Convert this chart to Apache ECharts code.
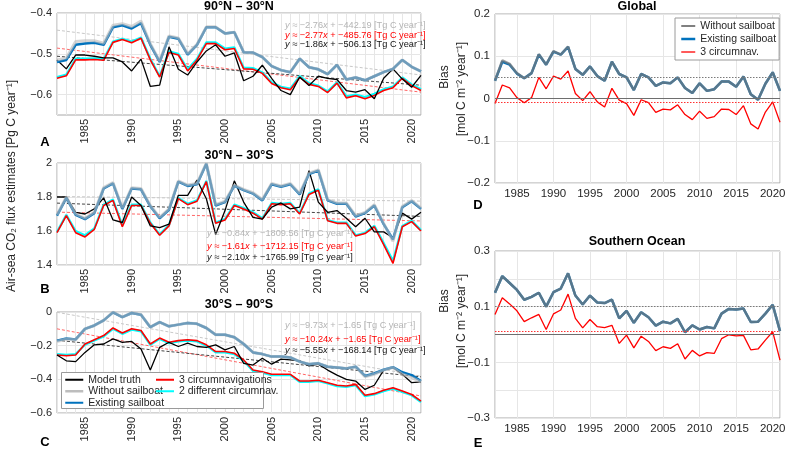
<!DOCTYPE html>
<html><head><meta charset="utf-8">
<script src="https://cdn.jsdelivr.net/npm/echarts@6/dist/echarts.min.js"></script>
<style>html,body{margin:0;padding:0;background:#fff}#c{width:787px;height:451px}</style>
</head><body><div id="c"></div>
<script>
const FONT = '"Liberation Sans", Arial, Helvetica, sans-serif';
const years = [1982,1983,1984,1985,1986,1987,1988,1989,1990,1991,1992,1993,1994,1995,1996,1997,1998,1999,2000,2001,2002,2003,2004,2005,2006,2007,2008,2009,2010,2011,2012,2013,2014,2015,2016,2017,2018,2019,2020,2021];

// Panel A: 90N-30N (Pg C / yr)
const aTruth    = [-0.515,-0.537,-0.503,-0.503,-0.506,-0.510,-0.510,-0.520,-0.542,-0.513,-0.580,-0.577,-0.483,-0.538,-0.552,-0.520,-0.493,-0.478,-0.506,-0.498,-0.566,-0.555,-0.528,-0.560,-0.590,-0.600,-0.557,-0.578,-0.555,-0.560,-0.563,-0.590,-0.594,-0.588,-0.610,-0.560,-0.537,-0.562,-0.582,-0.553];
const aExisting = [-0.520,-0.515,-0.478,-0.475,-0.473,-0.478,-0.435,-0.430,-0.438,-0.425,-0.478,-0.520,-0.458,-0.463,-0.502,-0.478,-0.435,-0.435,-0.450,-0.447,-0.496,-0.497,-0.508,-0.530,-0.540,-0.545,-0.512,-0.533,-0.538,-0.550,-0.527,-0.563,-0.558,-0.565,-0.555,-0.545,-0.537,-0.515,-0.532,-0.543];
const aWithout  = [-0.515,-0.510,-0.470,-0.468,-0.468,-0.474,-0.430,-0.426,-0.433,-0.420,-0.475,-0.518,-0.456,-0.461,-0.500,-0.477,-0.434,-0.434,-0.450,-0.447,-0.496,-0.497,-0.508,-0.530,-0.540,-0.545,-0.512,-0.533,-0.538,-0.550,-0.527,-0.563,-0.558,-0.565,-0.555,-0.545,-0.537,-0.515,-0.532,-0.543];
const a3circ    = [-0.560,-0.554,-0.515,-0.515,-0.514,-0.516,-0.472,-0.465,-0.473,-0.462,-0.515,-0.557,-0.497,-0.503,-0.542,-0.515,-0.475,-0.475,-0.490,-0.487,-0.537,-0.538,-0.548,-0.573,-0.583,-0.588,-0.558,-0.575,-0.580,-0.595,-0.572,-0.608,-0.603,-0.610,-0.602,-0.590,-0.583,-0.560,-0.578,-0.590];
const a2diff    = [-0.557,-0.551,-0.512,-0.512,-0.511,-0.513,-0.470,-0.463,-0.470,-0.460,-0.512,-0.555,-0.494,-0.500,-0.538,-0.512,-0.472,-0.472,-0.487,-0.484,-0.534,-0.535,-0.546,-0.570,-0.581,-0.585,-0.555,-0.572,-0.578,-0.592,-0.570,-0.604,-0.600,-0.606,-0.598,-0.587,-0.580,-0.558,-0.575,-0.587];
const aTrendStart = [-0.442, -0.486, -0.506];   // without sailboat, 3 circumnav., model truth
const aTrendEnd   = [-0.552, -0.594, -0.577];
const aYTicks = [-0.6, -0.5, -0.4];

// Panel B: 30N-30S
const bTruth    = [1.800,1.800,1.710,1.700,1.730,1.795,1.665,1.650,1.800,1.750,1.630,1.620,1.640,1.810,1.810,1.900,1.790,1.580,1.720,1.895,1.770,1.680,1.670,1.740,1.765,1.730,1.740,1.955,1.770,1.710,1.720,1.675,1.625,1.675,1.595,1.595,1.560,1.705,1.670,1.710];
const bExisting = [1.690,1.795,1.695,1.670,1.705,1.850,1.880,1.730,1.850,1.845,1.745,1.675,1.725,1.890,1.865,1.875,1.995,1.750,1.770,1.865,1.840,1.820,1.780,1.875,1.860,1.875,1.815,1.935,1.955,1.780,1.760,1.760,1.685,1.705,1.750,1.640,1.550,1.740,1.775,1.730];
const bWithout  = [1.695,1.800,1.700,1.675,1.710,1.855,1.885,1.735,1.855,1.850,1.750,1.680,1.730,1.895,1.870,1.880,2.000,1.755,1.775,1.870,1.845,1.825,1.785,1.880,1.865,1.880,1.820,1.940,1.960,1.785,1.765,1.765,1.690,1.710,1.755,1.645,1.540,1.745,1.780,1.735];
const b3circ    = [1.590,1.690,1.590,1.565,1.610,1.750,1.780,1.625,1.750,1.750,1.645,1.575,1.630,1.790,1.755,1.775,1.890,1.645,1.665,1.750,1.730,1.705,1.670,1.760,1.755,1.760,1.700,1.815,1.840,1.660,1.645,1.645,1.570,1.585,1.625,1.520,1.410,1.625,1.655,1.600];
const b2diff    = [1.595,1.695,1.600,1.575,1.615,1.755,1.785,1.635,1.755,1.755,1.650,1.580,1.635,1.795,1.760,1.780,1.895,1.650,1.670,1.755,1.735,1.710,1.675,1.765,1.760,1.765,1.705,1.820,1.845,1.665,1.650,1.650,1.575,1.590,1.630,1.530,1.425,1.630,1.660,1.605];
const bTrendStart = [1.803, 1.711, 1.764];
const bTrendEnd   = [1.776, 1.659, 1.686];

// Panel C: 30S-90S
const cTruth    = [-0.255,-0.290,-0.295,-0.240,-0.195,-0.190,-0.160,-0.180,-0.175,-0.220,-0.345,-0.210,-0.180,-0.205,-0.185,-0.205,-0.210,-0.195,-0.225,-0.205,-0.305,-0.315,-0.275,-0.310,-0.280,-0.285,-0.290,-0.320,-0.310,-0.345,-0.375,-0.400,-0.410,-0.460,-0.435,-0.345,-0.330,-0.370,-0.420,-0.415];
const cExisting = [-0.170,-0.158,-0.163,-0.100,-0.080,-0.050,-0.002,-0.030,-0.006,-0.016,-0.090,-0.060,-0.085,-0.075,-0.065,-0.070,-0.095,-0.135,-0.135,-0.150,-0.190,-0.240,-0.250,-0.265,-0.265,-0.270,-0.295,-0.310,-0.305,-0.325,-0.330,-0.335,-0.325,-0.380,-0.365,-0.343,-0.328,-0.358,-0.375,-0.410];
const cWithout  = [-0.175,-0.160,-0.165,-0.100,-0.080,-0.050,0.000,-0.030,-0.005,-0.015,-0.090,-0.060,-0.085,-0.075,-0.065,-0.070,-0.095,-0.135,-0.135,-0.150,-0.190,-0.240,-0.250,-0.265,-0.265,-0.270,-0.295,-0.310,-0.305,-0.325,-0.330,-0.335,-0.325,-0.385,-0.370,-0.345,-0.330,-0.370,-0.390,-0.415];
const c3circ    = [-0.255,-0.260,-0.255,-0.190,-0.165,-0.140,-0.095,-0.125,-0.100,-0.110,-0.190,-0.155,-0.180,-0.170,-0.165,-0.170,-0.195,-0.235,-0.235,-0.245,-0.285,-0.345,-0.355,-0.370,-0.370,-0.370,-0.410,-0.410,-0.405,-0.420,-0.435,-0.440,-0.430,-0.495,-0.485,-0.465,-0.450,-0.470,-0.490,-0.530];
const c2diff    = [-0.250,-0.255,-0.250,-0.195,-0.170,-0.145,-0.100,-0.130,-0.105,-0.115,-0.195,-0.160,-0.185,-0.175,-0.170,-0.175,-0.200,-0.240,-0.240,-0.250,-0.290,-0.350,-0.360,-0.375,-0.375,-0.375,-0.415,-0.415,-0.410,-0.425,-0.440,-0.445,-0.435,-0.500,-0.490,-0.470,-0.455,-0.475,-0.495,-0.535];
const cTrendStart = [-0.002, -0.100, -0.168];
const cTrendEnd   = [-0.381, -0.499, -0.385];

// Panel D: Global bias (mol C m-2 yr-1)
const dWithout  = [0.042,0.090,0.082,0.060,0.048,0.060,0.105,0.080,0.112,0.104,0.123,0.070,0.056,0.076,0.053,0.042,0.087,0.058,0.050,0.020,0.058,0.050,0.030,0.038,0.036,0.050,0.025,0.013,0.036,0.018,0.022,0.040,0.040,0.028,0.052,0.010,-0.003,0.035,0.062,0.018];
const dExisting = [0.042,0.087,0.080,0.059,0.048,0.060,0.104,0.080,0.111,0.104,0.122,0.070,0.056,0.076,0.053,0.042,0.087,0.058,0.050,0.020,0.058,0.050,0.030,0.038,0.036,0.050,0.025,0.013,0.036,0.018,0.022,0.040,0.040,0.028,0.052,0.010,-0.003,0.035,0.062,0.018];
const d3circ    = [-0.012,0.032,0.025,0.002,-0.010,0.002,0.050,0.023,0.053,0.046,0.065,0.012,-0.005,0.016,-0.008,-0.020,0.024,-0.004,-0.012,-0.040,-0.003,-0.010,-0.033,-0.025,-0.027,-0.015,-0.038,-0.050,-0.030,-0.047,-0.043,-0.025,-0.026,-0.038,-0.017,-0.060,-0.072,-0.032,-0.008,-0.056];
const dMeans = [0.052, -0.012];   // without sailboat, 3 circumnav.

// Panel E: Southern Ocean bias
const eWithout  = [0.150,0.210,0.185,0.160,0.125,0.135,0.150,0.100,0.152,0.165,0.220,0.140,0.108,0.140,0.115,0.113,0.125,0.058,0.085,0.042,0.080,0.062,0.032,0.046,0.040,0.056,0.008,0.033,0.018,0.027,0.022,0.075,0.092,0.090,0.093,0.045,0.046,0.075,0.107,0.012];
const eExisting = [0.150,0.210,0.185,0.160,0.125,0.135,0.150,0.100,0.152,0.165,0.220,0.140,0.108,0.140,0.115,0.113,0.125,0.058,0.085,0.042,0.080,0.062,0.032,0.046,0.040,0.056,0.008,0.033,0.018,0.027,0.022,0.075,0.092,0.090,0.093,0.045,0.046,0.075,0.107,0.012];
const e3circ    = [0.072,0.132,0.110,0.085,0.046,0.060,0.072,0.018,0.074,0.088,0.145,0.058,0.024,0.054,0.028,0.025,0.033,-0.032,-0.002,-0.048,-0.006,-0.025,-0.058,-0.044,-0.050,-0.033,-0.088,-0.057,-0.077,-0.065,-0.068,-0.015,-0.001,-0.005,-0.003,-0.055,-0.052,-0.020,0.010,-0.092];
const eMeans = [0.095, 0.005];
const eYTicks = [-0.3, -0.1, 0.1, 0.3];

const titles = ['90°N – 30°N', '30°N – 30°S', '30°S – 90°S', 'Global', 'Southern Ocean'];
const eqA = ['−2.76', '−442.19', '−2.77', '−485.76', '−1.86', '−506.13'];
const eqB = ['−0.84', '−1809.56', '−1.61', '−1712.15', '−2.10', '−1765.99'];
const eqC = ['−9.73', '−1.65', '−10.24', '−1.65', '−5.55', '−168.14'];

const C_GRAY = 'rgba(185,185,185,0.6)', C_BLUE = '#0072BD', C_RED = '#ff0000', C_CYAN = '#00ffff';

const pair = arr => years.map((y, i) => [y, arr[i]]);
function ln(name, arr, gi, color, width, extra) {
  return Object.assign({
    type: 'line', name, data: pair(arr), xAxisIndex: gi, yAxisIndex: gi,
    symbol: 'none', showSymbol: false, animation: false, silent: true,
    lineStyle: { color, width }, itemStyle: { color }, z: 2
  }, extra || {});
}
function trend(gi, s, e, color) {
  return {
    type: 'line', name: 'trend', data: [[years[0], s], [years[years.length - 1], e]],
    xAxisIndex: gi, yAxisIndex: gi, symbol: 'none', animation: false, silent: true,
    lineStyle: { color, width: 1, type: [3, 2] }, z: 1
  };
}
const fmt = v => { const n = Number(v.toFixed(3)); return String(n).replace('-', '−'); };

const gridL = (top, h) => ({ left: 57, top, width: 364, height: h, show: true, borderColor: '#a8a8a8', borderWidth: 1, containLabel: false, outerBoundsMode: 'none' });
const gridR = (top, h) => ({ left: 495, top, width: 285, height: h, show: true, borderColor: '#a8a8a8', borderWidth: 1, containLabel: false, outerBoundsMode: 'none' });

const labelStyle = { color: '#262626', fontFamily: FONT, fontSize: 11 };
const xLeft = gi => ({
  gridIndex: gi, type: 'value', min: 1982, max: 2021, interval: 1,
  axisLine: { show: false }, axisTick: { show: false },
  splitLine: { show: true, lineStyle: { color: '#e6e6e6', width: 1 } },
  axisLabel: Object.assign({}, labelStyle, { rotate: 90, margin: 4, formatter: v => (Math.round(v) % 5 === 0 ? String(Math.round(v)) : '') })
});
const xRight = gi => ({
  gridIndex: gi, type: 'value', min: 1982, max: 2021, splitNumber: 8,
  axisLine: { show: false }, axisTick: { show: false },
  splitLine: { show: true, lineStyle: { color: '#e6e6e6', width: 1 } },
  axisLabel: Object.assign({}, labelStyle, { fontSize: 11.5, margin: 5, showMinLabel: false, showMaxLabel: false, formatter: v => String(Math.round(v)) })
});
const yAx = (gi, min, max, interval, formatter, splitColor) => ({
  gridIndex: gi, type: 'value', min, max, interval,
  axisLine: { show: false }, axisTick: { show: false },
  splitLine: { show: true, lineStyle: { color: splitColor || '#e6e6e6', width: 1 } },
  axisLabel: Object.assign({}, labelStyle, { fontSize: gi >= 3 ? 11.5 : 11, margin: 5, formatter })
});

const series = [];
function leftPanel(gi, truth, existing, without, c3, c2, ts, te) {
  series.push(trend(gi, ts[0], te[0], '#c8c8c8'));
  series.push(trend(gi, ts[1], te[1], '#ff6666'));
  series.push(trend(gi, ts[2], te[2], '#444444'));
  series.push(ln('2 different circumnav.', c2, gi, C_CYAN, 2.2));
  series.push(ln('3 circumnavigations', c3, gi, C_RED, 1.6));
  series.push(ln('Model truth', truth, gi, '#000000', 1.3));
  series.push(ln('Existing sailboat', existing, gi, C_BLUE, 2.5));
  series.push(ln('Without sailboat', without, gi, C_GRAY, 3));
}
leftPanel(0, aTruth, aExisting, aWithout, a3circ, a2diff, aTrendStart, aTrendEnd);
leftPanel(1, bTruth, bExisting, bWithout, b3circ, b2diff, bTrendStart, bTrendEnd);
leftPanel(2, cTruth, cExisting, cWithout, c3circ, c2diff, cTrendStart, cTrendEnd);

function rightPanel(gi, without, existing, c3, means) {
  const ml = {
    symbol: ['none', 'none'], silent: true, animation: false, label: { show: false },
    data: [
      { yAxis: 0, lineStyle: { color: '#6e6e6e', type: 'solid', width: 1 } },
      { yAxis: means[0], lineStyle: { color: '#7a7a7a', type: [1.5, 1.5], width: 1 } },
      { yAxis: means[1], lineStyle: { color: '#ff3030', type: [1.5, 1.5], width: 1 } }
    ]
  };
  series.push(ln('3 circumnav.', c3, gi, C_RED, 1.3, { markLine: ml, z: 2 }));
  series.push(ln('Existing sailboat', existing, gi, C_BLUE, 2.5, { z: 3 }));
  series.push(ln('Without sailboat', without, gi, 'rgba(120,120,120,0.72)', 2.5, { z: 3 }));
}
rightPanel(3, dWithout, dExisting, d3circ, dMeans);
rightPanel(4, eWithout, eExisting, e3circ, eMeans);

const fmtA = v => (aYTicks.some(t => Math.abs(t - v) < 1e-6) ? fmt(v) : '');
const fmtE = v => (eYTicks.some(t => Math.abs(t - v) < 1e-6) ? fmt(v) : '');

// graphic texts
const G = [];
function txt(x, y, text, font, rot, fill) {
  G.push({
    type: 'text', x, y, rotation: rot || 0, silent: true, z: 20,
    style: { text, fill: fill || '#262626', font, align: 'center', verticalAlign: 'middle' }
  });
}
[[239, 7], [239, 156], [239, 305], [637, 7], [637, 242]].forEach((p, i) =>
  txt(p[0], p[1], titles[i], 'bold 12.5px ' + FONT, 0, '#000'));
[['A', 45, 142], ['B', 45, 289], ['C', 45, 442], ['D', 478, 205], ['E', 478, 443]].forEach(p =>
  txt(p[1], p[2], p[0], 'bold 13px ' + FONT, 0, '#000'));
txt(12, 186, 'Air-sea CO₂ flux estimates [Pg C year⁻¹]', '12px ' + FONT, Math.PI / 2);
txt(445, 77, 'Bias', '12px ' + FONT, Math.PI / 2);
txt(462, 89, '[mol C m⁻² year⁻¹]', '12px ' + FONT, Math.PI / 2);
txt(445, 301, 'Bias', '12px ' + FONT, Math.PI / 2);
txt(462, 321, '[mol C m⁻² year⁻¹]', '12px ' + FONT, Math.PI / 2);
function eqs(x, ys, vals) {
  const cols = ['#b4b4b4', '#ff0000', '#111111'];
  for (let k = 0; k < 3; k++) {
    const c = cols[k];
    G.push({
      type: 'text', x, y: ys[k], silent: true, z: 20,
      style: {
        text: '{i|y} ≈ ' + vals[2 * k] + '{i|x} + ' + vals[2 * k + 1] + ' [Tg C year⁻¹]',
        fill: c, font: '9.2px ' + FONT, align: 'left', verticalAlign: 'middle',
        rich: { i: { fill: c, fontStyle: 'italic', fontSize: 9.2, fontFamily: FONT } }
      }
    });
  }
}
eqs(285, [25, 35, 44], eqA);
eqs(207, [233, 246, 257], eqB);
eqs(285, [325, 339, 350], eqC);
G.push({ type: 'rect', shape: { x: 61.5, y: 372.5, width: 202, height: 36 }, style: { fill: '#fff', stroke: '#9a9a9a', lineWidth: 1 }, z: 3, silent: true });

const legText = { color: '#262626', fontFamily: FONT, fontSize: 10.5, lineHeight: 11.5 };
const noSym = { opacity: 0 };
const option = {
  animation: false,
  backgroundColor: '#fff',
  grid: [gridL(13, 102), gridL(163, 102), gridL(312, 101), gridR(14, 169), gridR(251, 167)],
  xAxis: [xLeft(0), xLeft(1), xLeft(2), xRight(3), xRight(4)],
  yAxis: [
    yAx(0, -0.65, -0.4, 0.05, fmtA, ['rgba(0,0,0,0)', '#e6e6e6']),
    yAx(1, 1.4, 2.0, 0.2, fmt),
    yAx(2, -0.6, 0, 0.2, fmt),
    yAx(3, -0.2, 0.2, 0.1, fmt),
    yAx(4, -0.3, 0.3, 0.1, fmtE)
  ],
  legend: [
    { left: 64, top: 374, orient: 'vertical', itemGap: 0, itemWidth: 18, itemHeight: 8, padding: 0, z: 10,
      selectedMode: false, textStyle: legText, itemStyle: noSym,
      data: ['Model truth', { name: 'Without sailboat', lineStyle: { color: '#bdbdbd', width: 2.5 } }, 'Existing sailboat'] },
    { left: 155, top: 374, orient: 'vertical', itemGap: 0, itemWidth: 18, itemHeight: 8, padding: 0, z: 10,
      selectedMode: false, textStyle: legText, itemStyle: noSym, data: ['3 circumnavigations', '2 different circumnav.'] },
    { left: 675, top: 18, orient: 'vertical', itemGap: 1, itemWidth: 14, itemHeight: 8, padding: [2, 3, 2, 5], z: 10,
      borderColor: '#9a9a9a', borderWidth: 1, backgroundColor: '#fff', selectedMode: false, itemStyle: noSym,
      textStyle: { color: '#262626', fontFamily: FONT, fontSize: 10.5, lineHeight: 12 },
      data: [
        { name: 'Without sailboat', lineStyle: { color: '#808080', width: 2 } },
        { name: 'Existing sailboat', lineStyle: { color: C_BLUE, width: 2.5 } },
        { name: '3 circumnav.', lineStyle: { color: C_RED, width: 1.3 } }
      ] }
  ],
  graphic: G,
  series
};
const chart = echarts.init(document.getElementById('c'), null, { renderer: 'canvas' });
chart.setOption(option);
</script></body></html>
